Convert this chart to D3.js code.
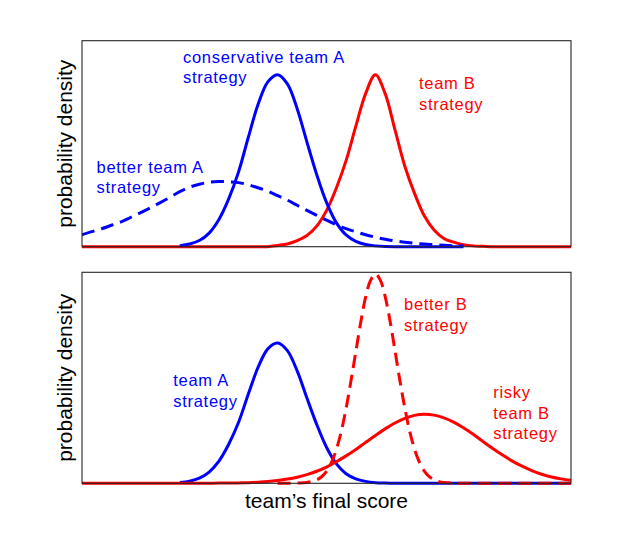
<!DOCTYPE html>
<html>
<head>
<meta charset="utf-8">
<script src="https://cdn.jsdelivr.net/npm/d3@7"></script>
<style>
  html, body { margin: 0; padding: 0; background: #fff; }
  svg { display: block; }
</style>
</head>
<body>
<svg id="chart" width="630" height="545"></svg>
<script>
// ---------- data (score in arbitrary units 0..100, density in arbitrary units) ----------
const gridX = [0,2,4,6,8,10,12,14,16,18,20,22,24,26,28,30,32,34,36,38,40,42,44,46,48,50,
               52,54,56,58,60,62,64,66,68,70,72,74,76,78,80,82,84,86,88,90,92,94,96,98,100];

// top panel
const conservativeAX = [20,22,24,26,28,30,32,34,36,38,40,42,44,46,48,50,52,54,56,58,60,62,64,70,78];
const conservativeAY = [0.005,0.013,0.030,0.066,0.132,0.232,0.362,0.530,0.690,0.800,0.835,0.790,0.670,0.508,0.350,
                        0.215,0.117,0.057,0.026,0.011,0.004,0.001,0,0,0];

const teamBTopY = [0,0,0,0,0,0,0,0,0,0,0,0,0,0,0,0,0,0,0,0,
                   0.006,0.013,0.029,0.054,0.100,0.175,0.284,0.418,0.585,0.743,0.835,0.743,0.568,0.392,0.259,0.150,
                   0.081,0.040,0.022,0.010,0.004,0.002,0,0,0,0,0,0,0,0,0];

const betterAX = [0,2,4,6,8,10,12,14,16,18,20,22,24,26,28,30,32,34,36,38,40,42,44,46,48,50,
                  52,54,56,58,60,62,64,66,68,70,72,74,76,78];
const betterAY = [0.058,0.073,0.087,0.104,0.121,0.143,0.165,0.189,0.214,0.240,0.267,0.289,0.303,0.313,0.316,0.315,
                  0.311,0.301,0.286,0.270,0.248,0.226,0.201,0.176,0.152,0.129,0.107,0.088,0.072,0.058,0.046,
                  0.036,0.028,0.022,0.017,0.013,0.010,0.007,0.005,0.004];

// bottom panel
const teamAX = [20,22,24,26,28,30,32,34,36,38,40,42,44,46,48,50,52,54,56,58,60,62,64,70,80,90,100];
const teamAY = [0.004,0.010,0.024,0.053,0.105,0.185,0.288,0.422,0.549,0.637,0.665,0.629,0.533,0.404,0.279,0.171,
                0.093,0.045,0.021,0.009,0.003,0.001,0,0,0,0,0];

const riskyBY = [0,0,0,0,0,0,0,0,0,0,0,0,0,0,0.001,0.001,0.002,0.003,0.005,0.008,0.013,0.020,0.029,0.041,0.057,0.077,
                 0.102,0.130,0.160,0.194,0.227,0.258,0.286,0.308,0.322,0.327,0.323,0.310,0.290,0.263,0.232,0.198,
                 0.165,0.134,0.105,0.081,0.060,0.043,0.030,0.021,0.014];

const betterBX = [40,42,44,46,48,49,50,51,52,53,54,55,56,57,58,59,60,61,62,63,64,65,66,67,68,69,70,71,72,73,74,76,78,80,90,100];
const betterBY = [0,0,0.001,0.004,0.016,0.031,0.057,0.098,0.159,0.244,0.354,0.485,0.624,0.763,0.882,0.961,0.992,
                  0.963,0.885,0.768,0.630,0.488,0.359,0.248,0.162,0.100,0.058,0.032,0.017,0.008,0.004,0.001,0,0,0,0];

// labels
const xTitle = "team\u2019s final score";
const yTitle = "probability density";

// ---------- drawing ----------
const svg = d3.select("#chart");
const BLUE = "#0000ff", RED = "#ff0000";

const x = d3.scaleLinear().domain([0, 100]).range([82, 571]);
const yTop = d3.scaleLinear().domain([0, 1]).range([246.7, 40.7]);
const yBot = d3.scaleLinear().domain([0, 1]).range([483.3, 272.3]);

const zip = (xs, ys) => xs.map((v, i) => [v, ys[i]]);

function panel(y, id, series, labels) {
  const [x0, x1] = x.range();
  const [yb, yt] = y.range();
  svg.append("clipPath").attr("id", id)
    .append("rect").attr("x", x0).attr("y", yt).attr("width", x1 - x0 + 4).attr("height", yb - yt + 6);

  const g = svg.append("g").attr("clip-path", `url(#${id})`);
  const line = d3.line().x(d => x(d[0])).y(d => y(Math.max(0, d[1]))).curve(d3.curveCatmullRom.alpha(0.5));
  series.forEach(s => {
    g.append("path")
      .attr("d", line(s.data))
      .attr("fill", "none")
      .attr("stroke", s.color)
      .attr("stroke-width", 3)
      .attr("stroke-dasharray", s.dash ? "13,7" : null)
      .attr("stroke-linejoin", "round");
  });

  svg.append("rect")
    .attr("x", x0).attr("y", yt).attr("width", x1 - x0).attr("height", yb - yt)
    .attr("fill", "none").attr("stroke", "#262626").attr("stroke-width", 1.1);

  // y-axis title
  svg.append("text")
    .attr("transform", `translate(72,${(yb + yt) / 2}) rotate(-90)`)
    .attr("text-anchor", "middle")
    .attr("font-family", "'Liberation Sans', Arial, Helvetica, sans-serif")
    .attr("font-size", 21)
    .attr("fill", "#000")
    .text(yTitle);

  labels.forEach(l => {
    const t = svg.append("text")
      .attr("x", l.x).attr("y", l.y)
      .attr("font-family", "'Liberation Sans', Arial, Helvetica, sans-serif")
      .attr("font-size", 16.5)
      .attr("letter-spacing", 0.7)
      .attr("fill", l.color);
    l.lines.forEach((ln, i) => {
      t.append("tspan").attr("x", l.x).attr("dy", i === 0 ? 0 : 20.5).text(ln);
    });
  });
}

panel(yTop, "clipTop", [
  { data: zip(gridX, teamBTopY), color: RED },
  { data: zip(conservativeAX, conservativeAY), color: BLUE },
  { data: zip(betterAX, betterAY), color: BLUE, dash: true }
], [
  { x: 183, y: 62.7, color: BLUE, lines: ["conservative team A", "strategy"] },
  { x: 419, y: 89.3, color: RED, lines: ["team B", "strategy"] },
  { x: 96.5, y: 172.5, color: BLUE, lines: ["better team A", "strategy"] }
]);

panel(yBot, "clipBot", [
  { data: zip(teamAX, teamAY), color: BLUE },
  { data: zip(gridX, riskyBY), color: RED },
  { data: zip(betterBX, betterBY), color: RED, dash: true }
], [
  { x: 173.3, y: 386, color: BLUE, lines: ["team A", "strategy"] },
  { x: 404, y: 310, color: RED, lines: ["better B", "strategy"] },
  { x: 493.3, y: 398.3, color: RED, lines: ["risky", "team B", "strategy"] }
]);

svg.append("text")
  .attr("x", (x.range()[0] + x.range()[1]) / 2)
  .attr("y", 508.3)
  .attr("text-anchor", "middle")
  .attr("font-family", "'Liberation Sans', Arial, Helvetica, sans-serif")
  .attr("font-size", 21)
  .attr("fill", "#000")
  .text(xTitle);
</script>
</body>
</html>
